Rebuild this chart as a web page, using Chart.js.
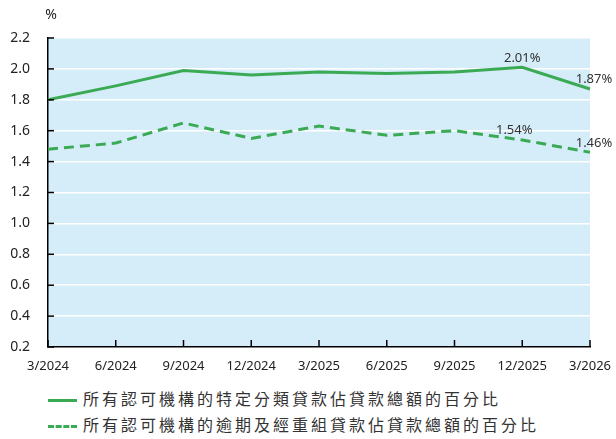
<!DOCTYPE html>
<html>
<head>
<meta charset="utf-8">
<script src="https://cdn.jsdelivr.net/npm/chart.js@4/dist/chart.umd.min.js"></script>
<style>
  body { margin: 0; background: #fff; font-family: "Noto Sans", "Noto Sans CJK TC", sans-serif; }
  #wrap { position: relative; width: 616px; height: 439px; }
  #legend { position: absolute; left: 48px; top: 386px; color: #333; font-family: "Noto Sans CJK TC", sans-serif; font-size: 16px; letter-spacing: 3px; }
  .row { height: 26px; line-height: 24px; white-space: nowrap; }
  .sw { display: inline-block; width: 29px; height: 0; border-top: 3px solid #3aaa55; vertical-align: middle; margin-right: 6px; }
  .sw.dash { border-top-style: dashed; }
</style>
</head>
<body>
<div id="wrap">
  <canvas id="lineChart" width="616" height="380"></canvas>
  <div id="legend">
    <div class="row"><span class="sw"></span>所有認可機構的特定分類貸款佔貸款總額的百分比</div>
    <div class="row"><span class="sw dash"></span>所有認可機構的逾期及經重組貸款佔貸款總額的百分比</div>
  </div>
</div>
<script>
const quarters = ['3/2024', '6/2024', '9/2024', '12/2024', '3/2025', '6/2025', '9/2025', '12/2025', '3/2026'];
const classifiedLoans = [1.80, 1.89, 1.99, 1.96, 1.98, 1.97, 1.98, 2.01, 1.87];
const overdueLoans = [1.48, 1.52, 1.65, 1.55, 1.63, 1.57, 1.60, 1.54, 1.46];
const yTicks = [0.2, 0.4, 0.6, 0.8, 1.0, 1.2, 1.4, 1.6, 1.8, 2.0, 2.2];

const green = '#3aaa55';

// light blue plot area + inward tick marks + value labels
const extras = {
  id: 'extras',
  beforeDraw(chart) {
    const a = chart.chartArea, ctx = chart.ctx;
    ctx.save();
    ctx.fillStyle = '#d5ecf9';
    ctx.fillRect(a.left, a.top, a.right - a.left, a.bottom - a.top);
    ctx.restore();
  },
  afterDraw(chart) {
    const a = chart.chartArea, ctx = chart.ctx;
    const xs = chart.scales.x, ys = chart.scales.y;
    ctx.save();
    ctx.strokeStyle = '#000';
    ctx.lineWidth = 1.5;
    yTicks.forEach(v => {
      const y = ys.getPixelForValue(v);
      ctx.beginPath(); ctx.moveTo(a.left, y); ctx.lineTo(a.left + 6, y); ctx.stroke();
    });
    quarters.forEach((q, i) => {
      const x = xs.getPixelForValue(i);
      ctx.beginPath(); ctx.moveTo(x, a.bottom); ctx.lineTo(x, a.bottom - 7); ctx.stroke();
    });
    // unit
    ctx.fillStyle = '#222';
    ctx.font = '14px "Noto Sans"';
    ctx.textAlign = 'center';
    ctx.textBaseline = 'middle';
    ctx.fillText('%', a.left + 3, 15);
    // value labels
    ctx.fillStyle = '#333';
    ctx.font = '13px "Noto Sans"';
    ctx.textBaseline = 'bottom';
    const last = quarters.length - 1;
    [[0, last - 1, 0, -3], [0, last, 4, -3], [1, last - 1, -8, -3], [1, last, 4, -3]].forEach(([d, i, dx, dy]) => {
      const p = chart.getDatasetMeta(d).data[i];
      const v = chart.data.datasets[d].data[i];
      ctx.fillText(v.toFixed(2) + '%', p.x + dx, p.y + dy);
    });
    ctx.restore();
  }
};

new Chart(document.getElementById('lineChart'), {
  type: 'line',
  data: {
    labels: quarters,
    datasets: [{
      label: '所有認可機構的特定分類貸款佔貸款總額的百分比',
      data: classifiedLoans,
      borderColor: green,
      borderWidth: 3,
      pointRadius: 0,
      tension: 0
    }, {
      label: '所有認可機構的逾期及經重組貸款佔貸款總額的百分比',
      data: overdueLoans,
      borderColor: green,
      borderWidth: 3,
      borderDash: [10, 6],
      pointRadius: 0,
      tension: 0
    }]
  },
  options: {
    responsive: false,
    animation: false,
    layout: { padding: { left: 0, right: 26, top: 38, bottom: 4 } },
    plugins: { legend: { display: false }, tooltip: { enabled: false } },
    scales: {
      x: {
        offset: false,
        grid: { display: false },
        border: { display: true, color: '#000', width: 1.5 },
        ticks: { color: '#222', font: { family: 'Noto Sans', size: 13 }, padding: 3, maxRotation: 0, autoSkip: false },
        afterFit(scale) { scale.height = 29; }
      },
      y: {
        min: 0.2,
        max: 2.2,
        afterBuildTicks(scale) { scale.ticks = yTicks.map(v => ({ value: v })); },
        grid: { color: '#fff', lineWidth: 1.5, drawTicks: false },
        border: { display: true, color: '#000', width: 1.5 },
        ticks: {
          color: '#222',
          font: { family: 'Noto Sans', size: 14 },
          padding: 18,
          callback: v => v.toFixed(1)
        },
        afterFit(scale) { scale.width = 48; }
      }
    }
  },
  plugins: [extras]
});
</script>
</body>
</html>
